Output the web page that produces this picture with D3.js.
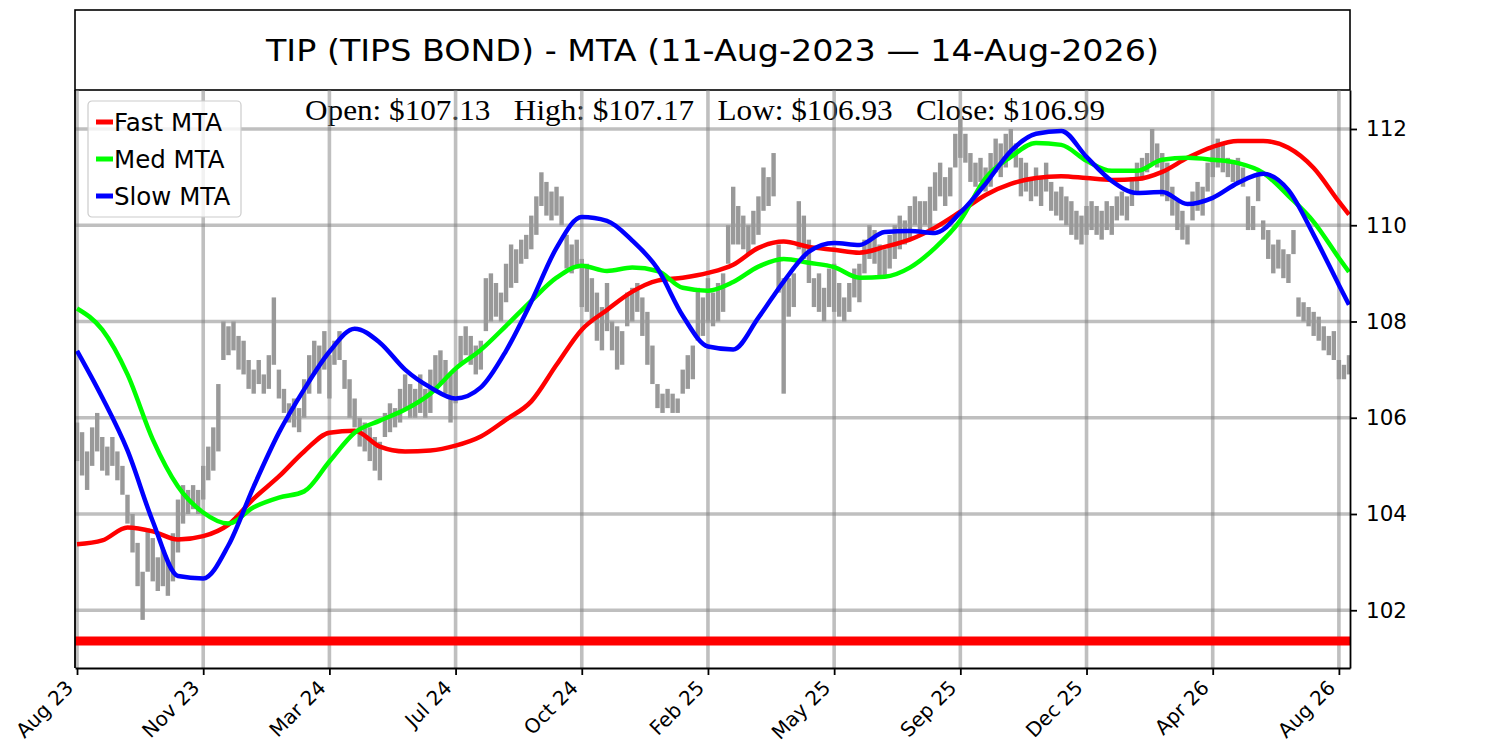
<!DOCTYPE html>
<html>
<head>
<meta charset="utf-8">
<script src="https://cdn.jsdelivr.net/npm/d3@7"></script>
<style>
  body { margin: 0; background: #fff; }
  svg { display: block; }
</style>
</head>
<body>
<div id="viz"></div>
<script>
// -----------------------------
// DATA
// -----------------------------
const chartTitle = "TIP (TIPS BOND) - MTA (11-Aug-2023 \u2014 14-Aug-2026)";

// one bar per ~3 sessions: high / low
const priceHigh = [
  105.9,105.7,105.3,105.8,106.1,105.6,105.4,105.6,105.3,105.0,
  104.4,104.0,103.4,102.8,103.7,103.5,103.1,103.3,103.0,103.6,
  104.3,104.6,104.5,104.6,104.5,105.0,105.4,105.8,106.7,108.0,
  107.9,108.0,107.7,107.6,107.2,107.0,107.2,106.9,107.3,108.5,
  107.0,106.6,106.3,106.4,106.2,106.8,107.3,107.6,107.5,107.8,
  107.3,107.6,107.8,107.2,106.8,106.4,106.0,105.9,105.8,105.6,
  105.5,106.1,106.3,106.2,106.6,106.9,106.7,106.6,106.9,106.6,
  107.0,107.3,107.4,107.2,106.9,107.0,107.7,107.9,107.7,107.5,
  107.6,108.9,109.0,108.8,108.6,109.2,109.6,109.5,109.7,109.8,
  110.2,110.6,111.1,110.9,110.7,110.8,110.6,109.8,109.6,109.7,
  109.3,109.2,108.9,108.6,108.3,108.8,108.0,107.9,107.8,108.6,
  108.7,108.8,108.5,108.2,107.5,106.7,106.5,106.6,106.5,106.4,
  107.0,107.3,107.5,108.7,108.5,108.9,108.6,108.8,109.0,110.0,
  110.8,110.4,110.2,110.0,110.3,110.6,111.2,111.0,111.5,109.6,
  108.9,108.9,109.0,110.5,110.2,109.7,108.9,109.0,108.7,109.1,
  109.2,108.8,108.5,108.8,109.1,109.2,109.7,110.0,109.9,109.6,
  109.5,109.8,110.0,110.2,110.1,110.4,110.6,110.5,110.5,110.8,
  111.1,111.3,111.0,111.2,111.9,112.2,111.9,111.5,111.3,111.4,
  111.2,111.5,111.8,111.7,111.9,112.0,111.7,111.4,111.3,111.0,
  111.2,111.0,111.3,110.9,110.7,110.8,110.6,110.5,110.3,110.2,
  110.4,110.5,110.4,110.3,110.5,110.4,110.6,110.7,110.6,111.0,
  111.3,111.4,111.5,112.0,111.7,111.5,111.3,110.8,110.5,110.3,
  110.0,110.7,110.9,110.8,111.3,111.6,111.8,111.7,111.4,111.3,
  111.4,111.2,110.6,110.4,111.1,110.1,109.9,109.6,109.7,109.5,
  109.4,109.9,108.5,108.4,108.3,108.2,108.1,107.9,107.7,107.8,
  107.2,107.1,107.3
];
const priceLow = [
  105.1,104.8,104.5,105.0,105.3,104.9,104.8,105.0,104.7,104.4,
  103.8,103.2,102.5,101.8,102.8,102.6,102.4,102.5,102.3,102.6,
  103.2,103.8,104.0,104.1,104.0,104.3,104.7,104.9,105.3,107.2,
  107.3,107.4,107.0,106.9,106.6,106.5,106.7,106.5,106.6,107.1,
  106.4,106.1,105.9,105.8,105.7,106.0,106.5,106.9,106.5,107.0,
  106.4,107.1,107.2,106.6,106.0,105.8,105.4,105.3,105.1,104.9,
  104.7,105.6,105.7,105.8,105.9,106.2,106.0,106.0,106.1,106.0,
  106.1,106.6,106.7,106.5,105.9,106.3,107.1,107.3,107.1,106.9,
  107.0,107.8,108.0,108.1,108.0,108.4,108.7,108.8,109.2,109.3,
  109.5,109.8,110.4,110.2,110.1,110.2,110.0,109.1,109.0,109.1,
  108.3,108.2,108.0,107.6,107.4,107.8,107.4,107.0,107.1,107.9,
  108.0,108.2,107.7,107.1,106.7,106.2,106.1,106.2,106.1,106.1,
  106.5,106.6,106.8,107.6,107.7,108.0,107.9,108.0,108.2,109.2,
  109.6,109.6,109.5,109.4,109.6,109.8,110.3,110.4,110.6,108.6,
  106.5,108.1,108.3,109.5,109.3,108.8,108.3,108.2,108.0,108.3,
  108.2,108.1,108.0,108.2,108.5,108.4,109.0,109.3,109.2,108.9,
  108.9,109.1,109.3,109.5,109.6,109.7,110.0,109.9,110.0,109.9,
  110.3,110.6,110.4,110.6,111.2,111.4,111.3,110.9,110.8,110.9,
  110.7,110.8,111.1,111.0,111.2,111.4,111.2,110.6,110.7,110.5,
  110.6,110.4,110.7,110.3,110.2,110.1,110.0,109.8,109.7,109.6,
  109.8,109.9,109.8,109.7,109.9,109.8,110.1,110.2,110.1,110.4,
  110.7,111.0,111.1,111.3,111.2,110.6,110.5,110.2,109.9,109.7,
  109.6,110.1,110.3,110.2,110.7,111.0,111.2,111.1,111.0,110.9,
  110.9,110.8,109.9,109.9,110.5,109.7,109.3,109.0,109.1,108.9,
  108.8,109.4,108.1,108.0,107.9,107.7,107.6,107.4,107.3,107.2,
  106.8,106.8,106.9
];

// MTA lines, read every 5 bars (last point = last bar)
const mtaBars = d3.range(0, 251, 5).concat([252]);
const fastMTA = [
  103.37,103.45,103.72,103.64,103.47,103.54,103.78,104.32,104.78,105.30,
  105.69,105.73,105.40,105.30,105.32,105.42,105.61,105.96,106.34,107.10,
  107.83,108.24,108.62,108.85,108.91,109.01,109.18,109.53,109.66,109.55,
  109.49,109.43,109.55,109.70,109.95,110.28,110.63,110.86,110.98,111.02,
  110.98,110.94,110.96,111.11,111.40,111.63,111.75,111.75,111.61,111.19,
  110.49,110.22
];
const medMTA = [
  108.27,107.83,106.90,105.55,104.57,104.03,103.80,104.14,104.34,104.47,
  105.09,105.69,105.94,106.17,106.50,107.02,107.41,107.91,108.43,108.91,
  109.16,109.05,109.12,109.05,108.70,108.64,108.82,109.14,109.30,109.22,
  109.13,108.91,108.93,109.12,109.53,110.10,110.98,111.42,111.71,111.67,
  111.34,111.13,111.13,111.36,111.40,111.36,111.29,111.09,110.61,110.07,
  109.32,109.03
];
const slowMTA = [
  107.39,106.42,105.32,103.85,102.71,102.66,103.35,104.57,105.69,106.59,
  107.37,107.85,107.56,107.00,106.63,106.40,106.63,107.39,108.41,109.53,
  110.17,110.09,109.68,109.10,108.12,107.48,107.42,108.08,108.83,109.45,
  109.63,109.59,109.86,109.88,109.84,110.26,110.86,111.54,111.90,111.96,
  111.42,110.92,110.67,110.69,110.44,110.57,110.88,111.07,110.73,109.80,
  108.76,108.35
];

const supportLevel = 101.36;

const xTickBars   = [0, 25, 50, 75, 100, 125, 150, 175, 200, 225, 250];
const xTickLabels = ["Aug 23","Nov 23","Mar 24","Jul 24","Oct 24","Feb 25",
                     "May 25","Sep 25","Dec 25","Apr 26","Aug 26"];
const yTicks = [102, 104, 106, 108, 110, 112];

const ohlcNames  = ["Open", "High", "Low", "Close"];
const ohlcValues = [107.13, 107.17, 106.93, 106.99];

const series = [
  { name: "Fast MTA", color: "#ff0000", values: fastMTA },
  { name: "Med MTA",  color: "#00ff00", values: medMTA },
  { name: "Slow MTA", color: "#0000ff", values: slowMTA }
];

// -----------------------------
// LAYOUT
// -----------------------------
const W = 1500, H = 750;
const plot = { left: 75, right: 1350, top: 90, bottom: 668 };
const SANS = "DejaVu Sans, sans-serif";

const svg = d3.select("#viz").append("svg")
  .attr("width", W)
  .attr("height", H)
  .style("background", "#fff");

const x = d3.scaleLinear().domain([-0.4, 252.2]).range([plot.left, plot.right]);
const y = d3.scaleLinear().domain([100.80, 112.81]).range([plot.bottom, plot.top]);

svg.append("clipPath").attr("id", "plot-clip")
  .append("rect")
  .attr("x", plot.left).attr("y", plot.top)
  .attr("width", plot.right - plot.left)
  .attr("height", plot.bottom - plot.top);

// -----------------------------
// TITLE BOX
// -----------------------------
svg.append("rect")
  .attr("x", plot.left).attr("y", 10)
  .attr("width", plot.right - plot.left).attr("height", plot.top - 10)
  .attr("fill", "#fff")
  .attr("stroke", "#000")
  .attr("stroke-width", 1.6);

svg.append("text")
  .attr("x", (plot.left + plot.right) / 2)
  .attr("y", 50)
  .attr("text-anchor", "middle")
  .attr("dominant-baseline", "central")
  .attr("textLength", 893)
  .attr("lengthAdjust", "spacingAndGlyphs")
  .style("font-family", SANS)
  .style("font-size", "31px")
  .text(chartTitle);

// OHLC readout (sits under the grid)
svg.append("text")
  .attr("x", 705)
  .attr("y", 120)
  .attr("text-anchor", "middle")
  .attr("textLength", 800)
  .attr("lengthAdjust", "spacingAndGlyphs")
  .style("font-family", "Liberation Serif, Times New Roman, serif")
  .style("font-size", "30px")
  .style("white-space", "pre")
  .text(ohlcNames.map((n, i) => `${n}: $${ohlcValues[i].toFixed(2)}`).join("   "));

// -----------------------------
// GRID
// -----------------------------
const grid = svg.append("g")
  .attr("clip-path", "url(#plot-clip)")
  .attr("stroke", "#808080")
  .attr("stroke-opacity", 0.5)
  .attr("stroke-width", 3.6);

grid.selectAll(".vgrid")
  .data(xTickBars)
  .join("line")
  .attr("class", "vgrid")
  .attr("x1", d => x(d)).attr("x2", d => x(d))
  .attr("y1", plot.top).attr("y2", plot.bottom);

grid.selectAll(".hgrid")
  .data(yTicks)
  .join("line")
  .attr("class", "hgrid")
  .attr("x1", plot.left).attr("x2", plot.right)
  .attr("y1", d => y(d)).attr("y2", d => y(d));

// -----------------------------
// PRICE BARS
// -----------------------------
const body = svg.append("g").attr("clip-path", "url(#plot-clip)");

const barW = 4.4;
body.append("g")
  .selectAll("rect")
  .data(priceHigh.map((h, i) => ({ i, h, l: priceLow[i] })))
  .join("rect")
  .attr("x", d => x(d.i) - barW / 2)
  .attr("width", barW)
  .attr("y", d => y(d.h))
  .attr("height", d => y(d.l) - y(d.h))
  .attr("fill", "#999999");

// support level
body.append("line")
  .attr("x1", plot.left).attr("x2", plot.right)
  .attr("y1", y(supportLevel)).attr("y2", y(supportLevel))
  .attr("stroke", "#ff0000")
  .attr("stroke-width", 9);

// MTA lines
const line = d3.line()
  .x((d, i) => x(mtaBars[i]))
  .y(d => y(d))
  .curve(d3.curveMonotoneX);

body.selectAll(".mta")
  .data(series)
  .join("path")
  .attr("class", "mta")
  .attr("d", d => line(d.values))
  .attr("fill", "none")
  .attr("stroke", d => d.color)
  .attr("stroke-width", 4.5)
  .attr("stroke-linejoin", "round");

// -----------------------------
// AXES
// -----------------------------
const xAxis = svg.append("g")
  .attr("transform", `translate(0,${plot.bottom})`)
  .call(d3.axisBottom(x)
    .tickValues(xTickBars)
    .tickFormat((d, i) => xTickLabels[i])
    .tickSize(7)
    .tickSizeOuter(0));

xAxis.selectAll("text")
  .style("font-family", SANS)
  .style("font-size", "20px")
  .attr("fill", "#000")
  .attr("text-anchor", "end")
  .attr("dy", null)
  .attr("y", null)
  .attr("transform", "translate(-3,21) rotate(-45)");

const yAxis = svg.append("g")
  .attr("transform", `translate(${plot.right},0)`)
  .call(d3.axisRight(y)
    .tickValues(yTicks)
    .tickSize(7)
    .tickPadding(9)
    .tickSizeOuter(0));

yAxis.selectAll("text")
  .style("font-family", SANS)
  .style("font-size", "21.5px")
  .attr("fill", "#000");

svg.selectAll(".domain, .tick line")
  .attr("stroke", "#000")
  .attr("stroke-width", 1.8);

// left spine
svg.append("line")
  .attr("x1", plot.left).attr("x2", plot.left)
  .attr("y1", plot.top).attr("y2", plot.bottom)
  .attr("stroke", "#000")
  .attr("stroke-width", 1.8);

// -----------------------------
// LEGEND
// -----------------------------
const legend = svg.append("g").attr("transform", "translate(88,101)");

legend.append("rect")
  .attr("width", 153).attr("height", 116)
  .attr("rx", 4)
  .attr("fill", "#fff")
  .attr("fill-opacity", 0.8)
  .attr("stroke", "#cccccc")
  .attr("stroke-width", 1.2);

const item = legend.selectAll(".item")
  .data(series)
  .join("g")
  .attr("transform", (d, i) => `translate(0,${21 + i * 37})`);

item.append("line")
  .attr("x1", 8).attr("x2", 25)
  .attr("stroke", d => d.color)
  .attr("stroke-width", 5);

item.append("text")
  .attr("x", 26)
  .attr("dominant-baseline", "central")
  .style("font-family", SANS)
  .style("font-size", "24.5px")
  .text(d => d.name);
</script>
</body>
</html>
